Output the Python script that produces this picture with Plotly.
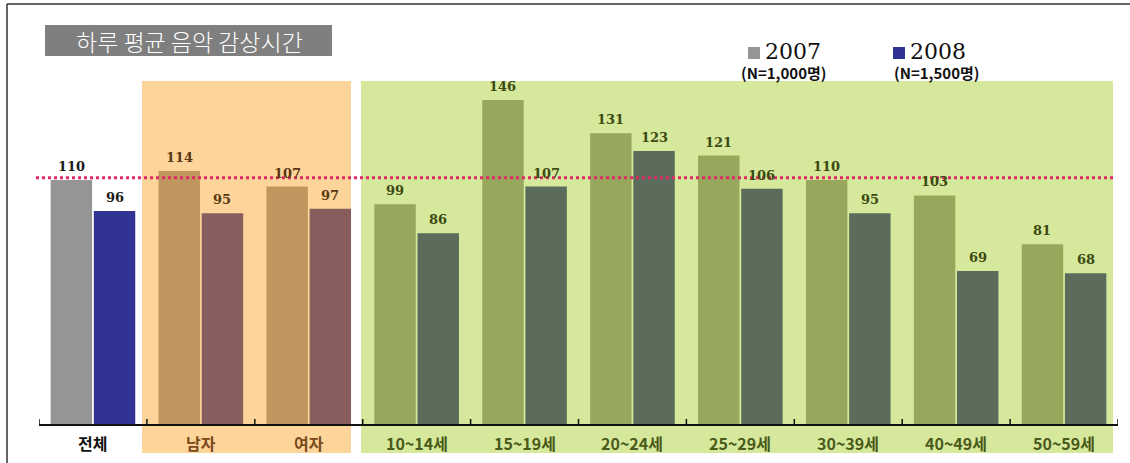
import plotly.graph_objects as go

# Average daily music listening time (minutes), by group
categories = ["전체", "남자", "여자", "10~14세", "15~19세", "20~24세",
              "25~29세", "30~39세", "40~49세", "50~59세"]
minutes_2007 = [110, 114, 107, 99, 146, 131, 121, 110, 103, 81]
minutes_2008 = [96, 95, 97, 86, 107, 123, 106, 95, 69, 68]
reference_level = 111

series_names = ["2007", "2008"]
series_notes = ["(N=1,000명)", "(N=1,500명)"]
title_text = "하루 평균 음악 감상시간"

# colour per group kind: overall, gender, age
kind = ["all", "sex", "sex"] + ["age"] * 7
bar_colors = {
    "2007": {"all": "#959595", "sex": "#c0965f", "age": "#97a85c"},
    "2008": {"all": "#303294", "sex": "#875d5d", "age": "#5b6d5a"},
}
value_text_color = {"all": "#1a1a1a", "sex": "#5a3814", "age": "#3c4a12"}
label_text_color = {"all": "#111111", "sex": "#7a4a1c", "age": "#4a5a1a"}

W, H = 1130, 463
M = dict(l=39, r=12, t=69, b=39)
PW = W - M["l"] - M["r"]
PH = H - M["t"] - M["b"]
BARGAP = 0.2


def px_x(px):
    return (px - M["l"]) / PW


def px_y(py):
    return (H - M["b"] - py) / PH


fig = go.Figure()
for name, vals in zip(series_names, [minutes_2007, minutes_2008]):
    fig.add_trace(go.Bar(
        x=categories, y=vals, name=name,
        marker=dict(color=[bar_colors[name][k] for k in kind], line=dict(width=0)),
        showlegend=False, hoverinfo="x+y",
    ))

# value labels above each bar
slot_px = PW / len(categories) * (1 - BARGAP) / 2
for si, vals in enumerate([minutes_2007, minutes_2008]):
    shift = (si - 0.5) * slot_px
    for cat, v, k in zip(categories, vals, kind):
        fig.add_annotation(
            x=cat, y=v, xref="x", yref="y", text=f"<b>{v}</b>", showarrow=False,
            xshift=shift, yshift=4, yanchor="bottom",
            font=dict(family="DejaVu Serif", size=13, color=value_text_color[k]),
        )

# category labels under the axis
for cat, k in zip(categories, kind):
    fig.add_annotation(
        x=cat, xref="x", yref="paper", y=px_y(443), yanchor="middle",
        text=f"<b>{cat}</b>", showarrow=False,
        font=dict(family="Noto Sans CJK KR", size=16, color=label_text_color[k]),
    )

shapes = []
# group background panels
shapes.append(dict(type="rect", xref="paper", yref="paper", layer="below",
                   x0=px_x(142), x1=px_x(351), y0=px_y(453), y1=px_y(81),
                   fillcolor="#fdd59a", line=dict(width=0)))
shapes.append(dict(type="rect", xref="paper", yref="paper", layer="below",
                   x0=px_x(361), x1=px_x(1113), y0=px_y(453), y1=px_y(81),
                   fillcolor="#d6e89b", line=dict(width=0)))
# short upward ticks at the category boundaries
for i in range(len(categories) + 1):
    shapes.append(dict(type="line", xref="x", yref="paper",
                       x0=i - 0.5, x1=i - 0.5, y0=0, y1=px_y(419),
                       line=dict(color="#111111", width=1.5)))
# reference level line
shapes.append(dict(type="line", xref="paper", yref="y",
                   x0=px_x(36), x1=px_x(1113), y0=reference_level, y1=reference_level,
                   line=dict(color="#e02a66", width=3, dash="dot")))
# frame lines (top and left)
shapes.append(dict(type="line", xref="paper", yref="paper",
                   x0=px_x(7), x1=px_x(1130), y0=px_y(4), y1=px_y(4),
                   line=dict(color="#333333", width=1.5)))
shapes.append(dict(type="line", xref="paper", yref="paper",
                   x0=px_x(7), x1=px_x(7), y0=px_y(4), y1=px_y(463),
                   line=dict(color="#333333", width=1.5)))
# title box
shapes.append(dict(type="rect", xref="paper", yref="paper",
                   x0=px_x(45), x1=px_x(332), y0=px_y(56), y1=px_y(25),
                   fillcolor="#7f7f7f", line=dict(width=0)))
# legend swatches and labels
legend_x = [748, 893]
for lx, name in zip(legend_x, series_names):
    shapes.append(dict(type="rect", xref="paper", yref="paper",
                       x0=px_x(lx), x1=px_x(lx + 12), y0=px_y(59), y1=px_y(47),
                       fillcolor=bar_colors[name]["all"], line=dict(width=0)))
    fig.add_annotation(xref="paper", yref="paper", x=px_x(lx + 15), y=px_y(51),
                       xanchor="left", yanchor="middle", showarrow=False,
                       text=name, font=dict(family="DejaVu Serif", size=22, color="#111111"))
for lx, note in zip([739, 892], series_notes):
    fig.add_annotation(xref="paper", yref="paper", x=px_x(lx), y=px_y(72),
                       xanchor="left", yanchor="middle", showarrow=False,
                       text=f"<b>{note}</b>",
                       font=dict(family="Noto Sans CJK KR", size=15, color="#111111"))

fig.add_annotation(xref="paper", yref="paper", x=px_x(189), y=px_y(41),
                   xanchor="center", yanchor="middle", showarrow=False,
                   text=title_text,
                   font=dict(family="Noto Sans CJK KR", size=23, weight=300, color="#ffffff"))

fig.update_layout(
    width=W, height=H, margin=M,
    paper_bgcolor="white", plot_bgcolor="rgba(0,0,0,0)",
    barmode="group", bargap=BARGAP, bargroupgap=0.04,
    shapes=shapes,
    xaxis=dict(type="category", categoryorder="array", categoryarray=categories,
               ticks="", showticklabels=False,
               showline=True, linecolor="#111111", linewidth=1.5,
               showgrid=False, zeroline=False,
               range=[-0.5, len(categories) - 0.5]),
    yaxis=dict(range=[0, 160], visible=False, showgrid=False, zeroline=False),
)

fig.write_html("out.html")
